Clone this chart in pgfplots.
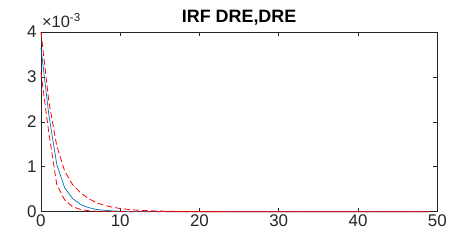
\documentclass[border=0pt]{standalone}
\usepackage{pgfplots}
\pgfplotsset{compat=1.18}
\usepackage{fontspec}
\setmainfont{Liberation Sans}
\definecolor{mblue}{rgb}{0,0.447,0.741}
\definecolor{axgray}{rgb}{0.15,0.15,0.15}
\pgfplotstableread{
x mid up lo
0 0.00365 0.00400 0.00310
1 0.00215 0.00245 0.00175
2 0.00105 0.00146 0.00060
3 0.00053 0.00090 0.00026
4 0.00029 0.00060 0.00011
5 0.00016 0.00042 0.00005
6 0.00009 0.00029 0.00002
7 0.00005 0.00020 0.00001
8 0.00003 0.00014 0.000005
9 0.000016 0.00010 0.000002
10 0.000009 0.00007 0.000001
11 0.000005 0.00005 0
12 0.000003 0.000035 0
13 0.0000016 0.000025 0
14 0.000001 0.000018 0
15 0.0000005 0.000013 0
16 0 0.000009 0
17 0 0.000006 0
18 0 0.000004 0
19 0 0.000003 0
20 0 0.000002 0
21 0 0.000001 0
22 0 0.000001 0
23 0 0 0
24 0 0 0
25 0 0 0
26 0 0 0
27 0 0 0
28 0 0 0
29 0 0 0
30 0 0 0
31 0 0 0
32 0 0 0
33 0 0 0
34 0 0 0
35 0 0 0
36 0 0 0
37 0 0 0
38 0 0 0
39 0 0 0
40 0 0 0
41 0 0 0
42 0 0 0
43 0 0 0
44 0 0 0
45 0 0 0
46 0 0 0
47 0 0 0
48 0 0 0
49 0 0 0
}\irf
\begin{document}
\begin{tikzpicture}
\begin{axis}[
  name=ax,
  set layers,
  scale only axis,
  width=397bp, height=180bp,
  xmin=0, xmax=50, ymin=0, ymax=0.004,
  clip=false,
  xtick={0,10,20,30,40,50},
  ytick={0,0.001,0.002,0.003,0.004},
  scaled y ticks=base 10:3,
  ytick scale label code/.code={},
  tick pos=both, tick align=inside,
  major tick length=4bp,
  axis line style={axgray, line width=0.5bp},
  every tick/.style={axgray, line width=0.5bp},
  yticklabel style={font=\fontsize{17}{19}\selectfont, text=axgray, xshift=-1bp},
  xticklabel style={font=\fontsize{17}{19}\selectfont, text=axgray},
  /pgf/number format/assume math mode=true,
  title={\fontsize{18}{20}\selectfont\bfseries IRF DRE,DRE},
  title style={yshift=-3bp},
]
\addplot[mblue, line width=0.7bp, on layer=axis foreground] table[x=x, y=mid] {\irf};
\addplot[red, line width=0.8bp, dash pattern=on 6bp off 3bp, on layer=axis foreground] table[x=x, y=up] {\irf};
\addplot[red, line width=0.8bp, dash pattern=on 6bp off 3bp, on layer=axis foreground] table[x=x, y=lo] {\irf};
\end{axis}
\node[anchor=base west, inner sep=0pt, text=axgray, font=\fontsize{16.5}{18}\selectfont] at ([xshift=1bp,yshift=4bp]ax.north west) {×10\textsuperscript{-3}};
\path[use as bounding box] ([xshift=-41bp,yshift=-30bp]ax.south west) rectangle ([xshift=12bp,yshift=32bp]ax.north east);
\end{tikzpicture}
\end{document}
